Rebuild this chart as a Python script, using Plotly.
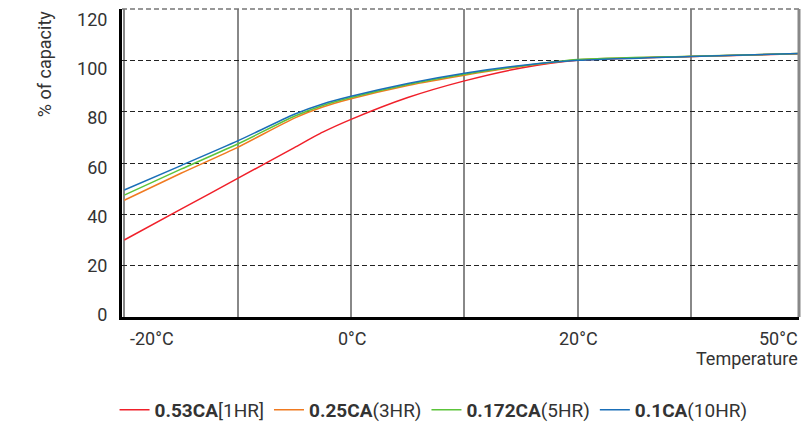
import plotly.graph_objects as go

temps = [-20, -15, -10, -5, -2.5, 0, 5, 10, 15, 20, 30, 40]
red = [30, 42, 54, 66, 72, 77, 85.5, 92, 97, 100, 101.5, 102.6]
orange = [45.5, 56, 66.1, 77.5, 81.8, 85, 90.2, 94.2, 97.6, 100.2, 101.5, 102.7]
green = [47.5, 57.6, 67.4, 78.2, 82.4, 85.5, 90.6, 94.6, 97.8, 100.3, 101.6, 102.7]
blue = [49.5, 59, 68.6, 79.0, 83.0, 86, 91, 95, 98, 100, 101.5, 102.7]

series = [
    ("<b>0.53CA</b>[1HR]", red, "#f0202a"),
    ("<b>0.25CA</b>(3HR)", orange, "#f07a20"),
    ("<b>0.172CA</b>(5HR)", green, "#5cc43a"),
    ("<b>0.1CA</b>(10HR)", blue, "#1a6fb8"),
]

xtick_vals = [-20, 0, 20, 40]
xtick_text = ["-20°C", "0°C", "20°C", "50°C"]
ytick_vals = [0, 20, 40, 60, 80, 100, 120]

fig = go.Figure()
for name, vals, col in series:
    fig.add_trace(go.Scatter(x=temps, y=vals, name=name, mode="lines",
                             line=dict(color=col, width=1.5, shape="spline", smoothing=0.6)))

# invisible trace carrying the y tick labels on an overlay axis
fig.add_trace(go.Scatter(x=[None], y=[None], yaxis="y2", showlegend=False, hoverinfo="skip"))

for v, t in zip(xtick_vals, xtick_text):
    if v == xtick_vals[0]:
        fig.add_annotation(x=v, y=0, xref="x", yref="paper", text=t, showarrow=False,
                           xanchor="left", yanchor="middle", xshift=4, yshift=-21,
                           font=dict(size=18, color="#333333"))
    elif v == xtick_vals[-1]:
        fig.add_annotation(x=1, y=0, xref="paper", yref="paper", text=t, showarrow=False,
                           xanchor="right", yanchor="middle", xshift=1, yshift=-21,
                           font=dict(size=18, color="#333333"))
    else:
        fig.add_annotation(x=v, y=0, xref="x", yref="paper", text=t, showarrow=False,
                           xanchor="center", yanchor="middle", xshift=1, yshift=-21,
                           font=dict(size=18, color="#333333"))

fig.add_annotation(x=1, y=0, xref="paper", yref="paper", text="Temperature",
                   showarrow=False, xanchor="right", yanchor="middle", xshift=1, yshift=-41,
                   font=dict(size=18, color="#333333"))
fig.add_annotation(x=-0.115, y=1, xref="paper", yref="paper", text="% of capacity",
                   showarrow=False, textangle=-90, xanchor="center", yanchor="top",
                   yshift=0, font=dict(size=18, color="#333333"))

# top border (dashed) and right border (solid)
fig.add_shape(type="line", xref="paper", yref="paper", x0=0, x1=1, y0=1, y1=1,
              line=dict(color="#777777", width=1.5, dash="5px,3px"))
fig.add_shape(type="line", xref="paper", yref="paper", x0=1, x1=1, y0=0, y1=1,
              line=dict(color="#888888", width=3))

fig.update_layout(
    width=801, height=424,
    margin=dict(l=122, r=2, t=9, b=107),
    paper_bgcolor="white", plot_bgcolor="white",
    font=dict(family="Roboto", color="#333333"),
    showlegend=True,
    legend=dict(orientation="h", xref="container", x=0.143, xanchor="left",
                yref="container", y=0.033, yanchor="middle",
                font=dict(size=19, color="#333333"), itemwidth=30,
                tracegroupgap=0),
    xaxis=dict(range=[-20.2, 39.5], tickmode="linear", tick0=-20, dtick=10,
               showticklabels=False, showgrid=True, gridcolor="#888888", gridwidth=2,
               showline=True, linecolor="black", linewidth=3, zeroline=False),
    yaxis=dict(range=[0, 120], tickvals=ytick_vals, showgrid=True,
               gridcolor="#222222", griddash="5px,3px", gridwidth=1,
               showline=True, linecolor="black", linewidth=3, zeroline=False,
               showticklabels=False),
    yaxis2=dict(overlaying="y", side="left", range=[-0.81, 124.3], tickvals=ytick_vals,
                showgrid=False, zeroline=False, showline=False,
                ticks="outside", ticklen=10, tickcolor="rgba(0,0,0,0)",
                tickfont=dict(size=18, color="#333333"), ticklabeloverflow="allow"),
)

fig.write_html("out.html", config={"displayModeBar": False},
               post_script="document.body.style.margin='0';")
